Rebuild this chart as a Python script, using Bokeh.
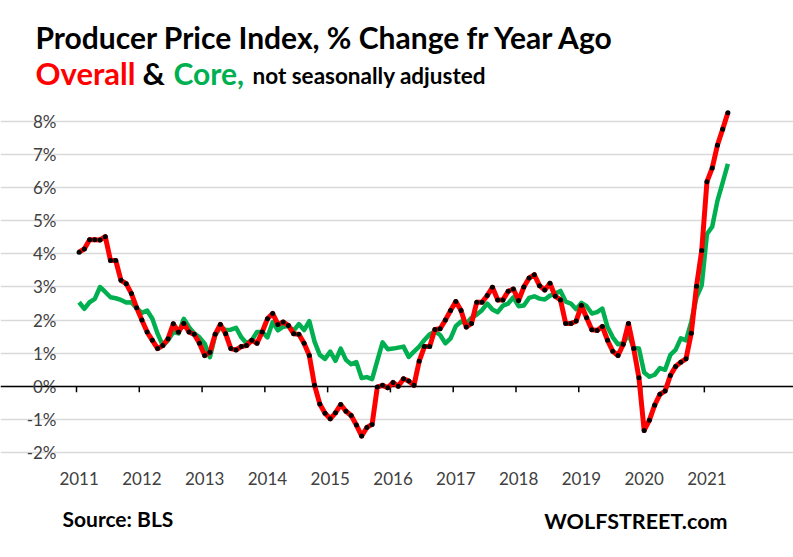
from bokeh.plotting import figure
from bokeh.models import FixedTicker, Grid, Label, Range1d
from bokeh.embed import file_html
from bokeh.resources import INLINE

# ---- data (monthly, % change from year ago) ----
years = ["2011", "2012", "2013", "2014", "2015", "2016", "2017", "2018", "2019", "2020", "2021"]
y_ticks = [-2, -1, 0, 1, 2, 3, 4, 5, 6, 7, 8]
y_labels = ["-2%", "-1%", "0%", "1%", "2%", "3%", "4%", "5%", "6%", "7%", "8%"]

overall = [
    4.05, 4.15, 4.43, 4.43, 4.42, 4.52, 3.80, 3.80, 3.20, 3.10, 2.80, 2.37,
    2.00, 1.64, 1.39, 1.14, 1.23, 1.44, 1.89, 1.64, 1.90, 1.64, 1.57, 1.30,
    0.93, 1.03, 1.57, 1.87, 1.59, 1.14, 1.10, 1.20, 1.23, 1.39, 1.30, 1.64,
    2.04, 2.20, 1.87, 1.94, 1.84, 1.59, 1.57, 1.30, 0.93, 0.03, -0.53, -0.81,
    -0.98, -0.80, -0.55, -0.75, -0.88, -1.17, -1.50, -1.24, -1.15, -0.02, 0.03, -0.04,
    0.12, 0.00, 0.23, 0.16, 0.03, 0.76, 1.20, 1.20, 1.72, 1.74, 2.00, 2.29,
    2.56, 2.29, 1.79, 1.90, 2.54, 2.54, 2.74, 2.99, 2.61, 2.61, 2.87, 2.94,
    2.59, 3.00, 3.27, 3.37, 3.04, 2.91, 3.11, 2.72, 2.61, 1.90, 1.90, 1.97,
    2.44, 2.07, 1.71, 1.69, 1.81, 1.39, 1.06, 0.93, 1.27, 1.90, 1.14, 0.26,
    -1.33, -1.02, -0.57, -0.24, -0.14, 0.33, 0.60, 0.73, 0.83, 1.60, 3.02, 4.10,
    6.18, 6.59, 7.28, 7.76, 8.26,
]

core = [
    2.54, 2.34, 2.54, 2.64, 3.00, 2.85, 2.69, 2.66, 2.61, 2.53, 2.54, 2.36,
    2.22, 2.29, 2.04, 1.59, 1.23, 1.39, 1.64, 1.60, 2.04, 1.79, 1.60, 1.48,
    1.29, 0.88, 1.54, 1.79, 1.70, 1.71, 1.77, 1.48, 1.30, 1.39, 1.64, 1.64,
    1.48, 1.94, 1.69, 1.80, 1.82, 1.68, 1.88, 1.70, 1.97, 1.35, 0.95, 0.83,
    1.05, 0.77, 1.14, 0.80, 0.67, 0.73, 0.25, 0.28, 0.22, 0.78, 1.33, 1.12,
    1.14, 1.17, 1.20, 0.89, 1.05, 1.20, 1.40, 1.57, 1.66, 1.55, 1.30, 1.45,
    1.82, 1.96, 1.90, 2.07, 2.17, 2.30, 2.50, 2.32, 2.24, 2.44, 2.50, 2.69,
    2.42, 2.44, 2.67, 2.72, 2.65, 2.62, 2.74, 2.80, 2.88, 2.56, 2.50, 2.33,
    2.52, 2.42, 2.20, 2.24, 2.35, 1.79, 1.48, 1.27, 1.30, 1.58, 1.16, 1.14,
    0.42, 0.29, 0.35, 0.55, 0.50, 0.95, 1.10, 1.45, 1.39, 1.95, 2.69, 3.05,
    4.60, 4.82, 5.60, 6.15, 6.72,
]

title_text = "Producer Price Index, % Change fr Year Ago"
sub_parts = ["Overall", "&", "Core,", "not seasonally adjusted"]
source_text = "Source: BLS"
brand_text = "WOLFSTREET.com"

months = list(range(len(overall)))
label_pos = [12 * k for k in range(len(years))]          # category of each year label
tick_pos = [12 * k - 0.5 for k in range(len(years))]     # tick marks between categories

# ---- layout (pixels) ----
W, H = 793, 557
PLOT_L, PLOT_R, PLOT_T, PLOT_B = 76, 730, 104, 468      # plotting area inside the canvas
X0, X1 = -0.5, len(months) - 0.5
Y0, Y1 = -2.48, 8.51
FONT = "Lato"

ppx = (PLOT_R - PLOT_L) / (X1 - X0)
ppy = (PLOT_B - PLOT_T) / (Y1 - Y0)
x_range = Range1d(X0 - PLOT_L / ppx, X1 + (W - PLOT_R) / ppx)
y_range = Range1d(Y0 - (H - PLOT_B) / ppy, Y1 + PLOT_T / ppy)

p = figure(width=W, height=H, output_backend="svg", toolbar_location=None,
           x_range=x_range, y_range=y_range, title=None,
           min_border=0, min_border_left=0, min_border_right=0,
           min_border_top=0, min_border_bottom=0)
p.outline_line_color = None

# grid
p.xgrid.visible = False
p.ygrid.ticker = FixedTicker(ticks=y_ticks)
p.ygrid.bounds = (X0, X1)
p.ygrid.grid_line_color = "#D9D9D9"
p.ygrid.grid_line_width = 1.5

# y axis, pinned at the left edge of the plotting area
p.yaxis.fixed_location = X0
p.yaxis.ticker = FixedTicker(ticks=y_ticks)
p.yaxis.major_label_overrides = {t: l for t, l in zip(y_ticks, y_labels)}
p.yaxis.axis_line_color = None
p.yaxis.major_tick_line_color = None
p.yaxis.minor_tick_line_color = None
p.yaxis.major_label_standoff = 14
p.yaxis.major_label_text_font = FONT
p.yaxis.major_label_text_font_size = "17px"
p.yaxis.major_label_text_color = "#404040"

# x axis labels, pinned just under the plotting area
p.xaxis.fixed_location = Y0 + 7 / ppy
p.xaxis.ticker = FixedTicker(ticks=label_pos)
p.xaxis.major_label_overrides = {t: l for t, l in zip(label_pos, years)}
p.xaxis.axis_line_color = None
p.xaxis.major_tick_line_color = None
p.xaxis.minor_tick_line_color = None
p.xaxis.major_label_standoff = 4
p.xaxis.major_label_text_font = FONT
p.xaxis.major_label_text_font_size = "17px"
p.xaxis.major_label_text_color = "#404040"

# zero line with tick marks
zero = Grid(dimension=1, ticker=FixedTicker(ticks=[0]), bounds=(X0, X1),
            grid_line_color="black", grid_line_width=1.5)
p.add_layout(zero)
p.segment(x0=tick_pos, y0=[0] * len(tick_pos), x1=tick_pos, y1=[-6 / ppy] * len(tick_pos),
          line_color="black", line_width=1.5)

# series
p.line(months, core, line_color="#00B050", line_width=4.5, line_join="round")
p.line(months, overall, line_color="#FF0000", line_width=5, line_join="round")
p.scatter(months, overall, size=5, fill_color="black", line_color=None)


def put(x, y, text, size, color="black", align="left"):
    kw = dict(x=x, y=y, x_units="canvas", y_units="canvas", text=text,
              text_font=FONT, text_font_size=size, text_color=color,
              text_font_style="bold", text_align=align, text_baseline="alphabetic")
    try:
        lab = Label(**kw)
    except Exception:
        kw["x_units"] = "screen"
        kw["y_units"] = "screen"
        lab = Label(**kw)
    p.add_layout(lab)


put(35, 36, title_text, "30px")
put(35, 72, sub_parts[0], "31px", color="#FF0000")
put(142, 72, sub_parts[1], "31px")
put(173, 72, sub_parts[2], "30px", color="#00B050")
put(252, 75, sub_parts[3], "22.5px")
put(62, 518, source_text, "21px")
put(727, 520, brand_text, "21.5px", align="right")

open("out.html", "w").write(file_html(p, INLINE))
